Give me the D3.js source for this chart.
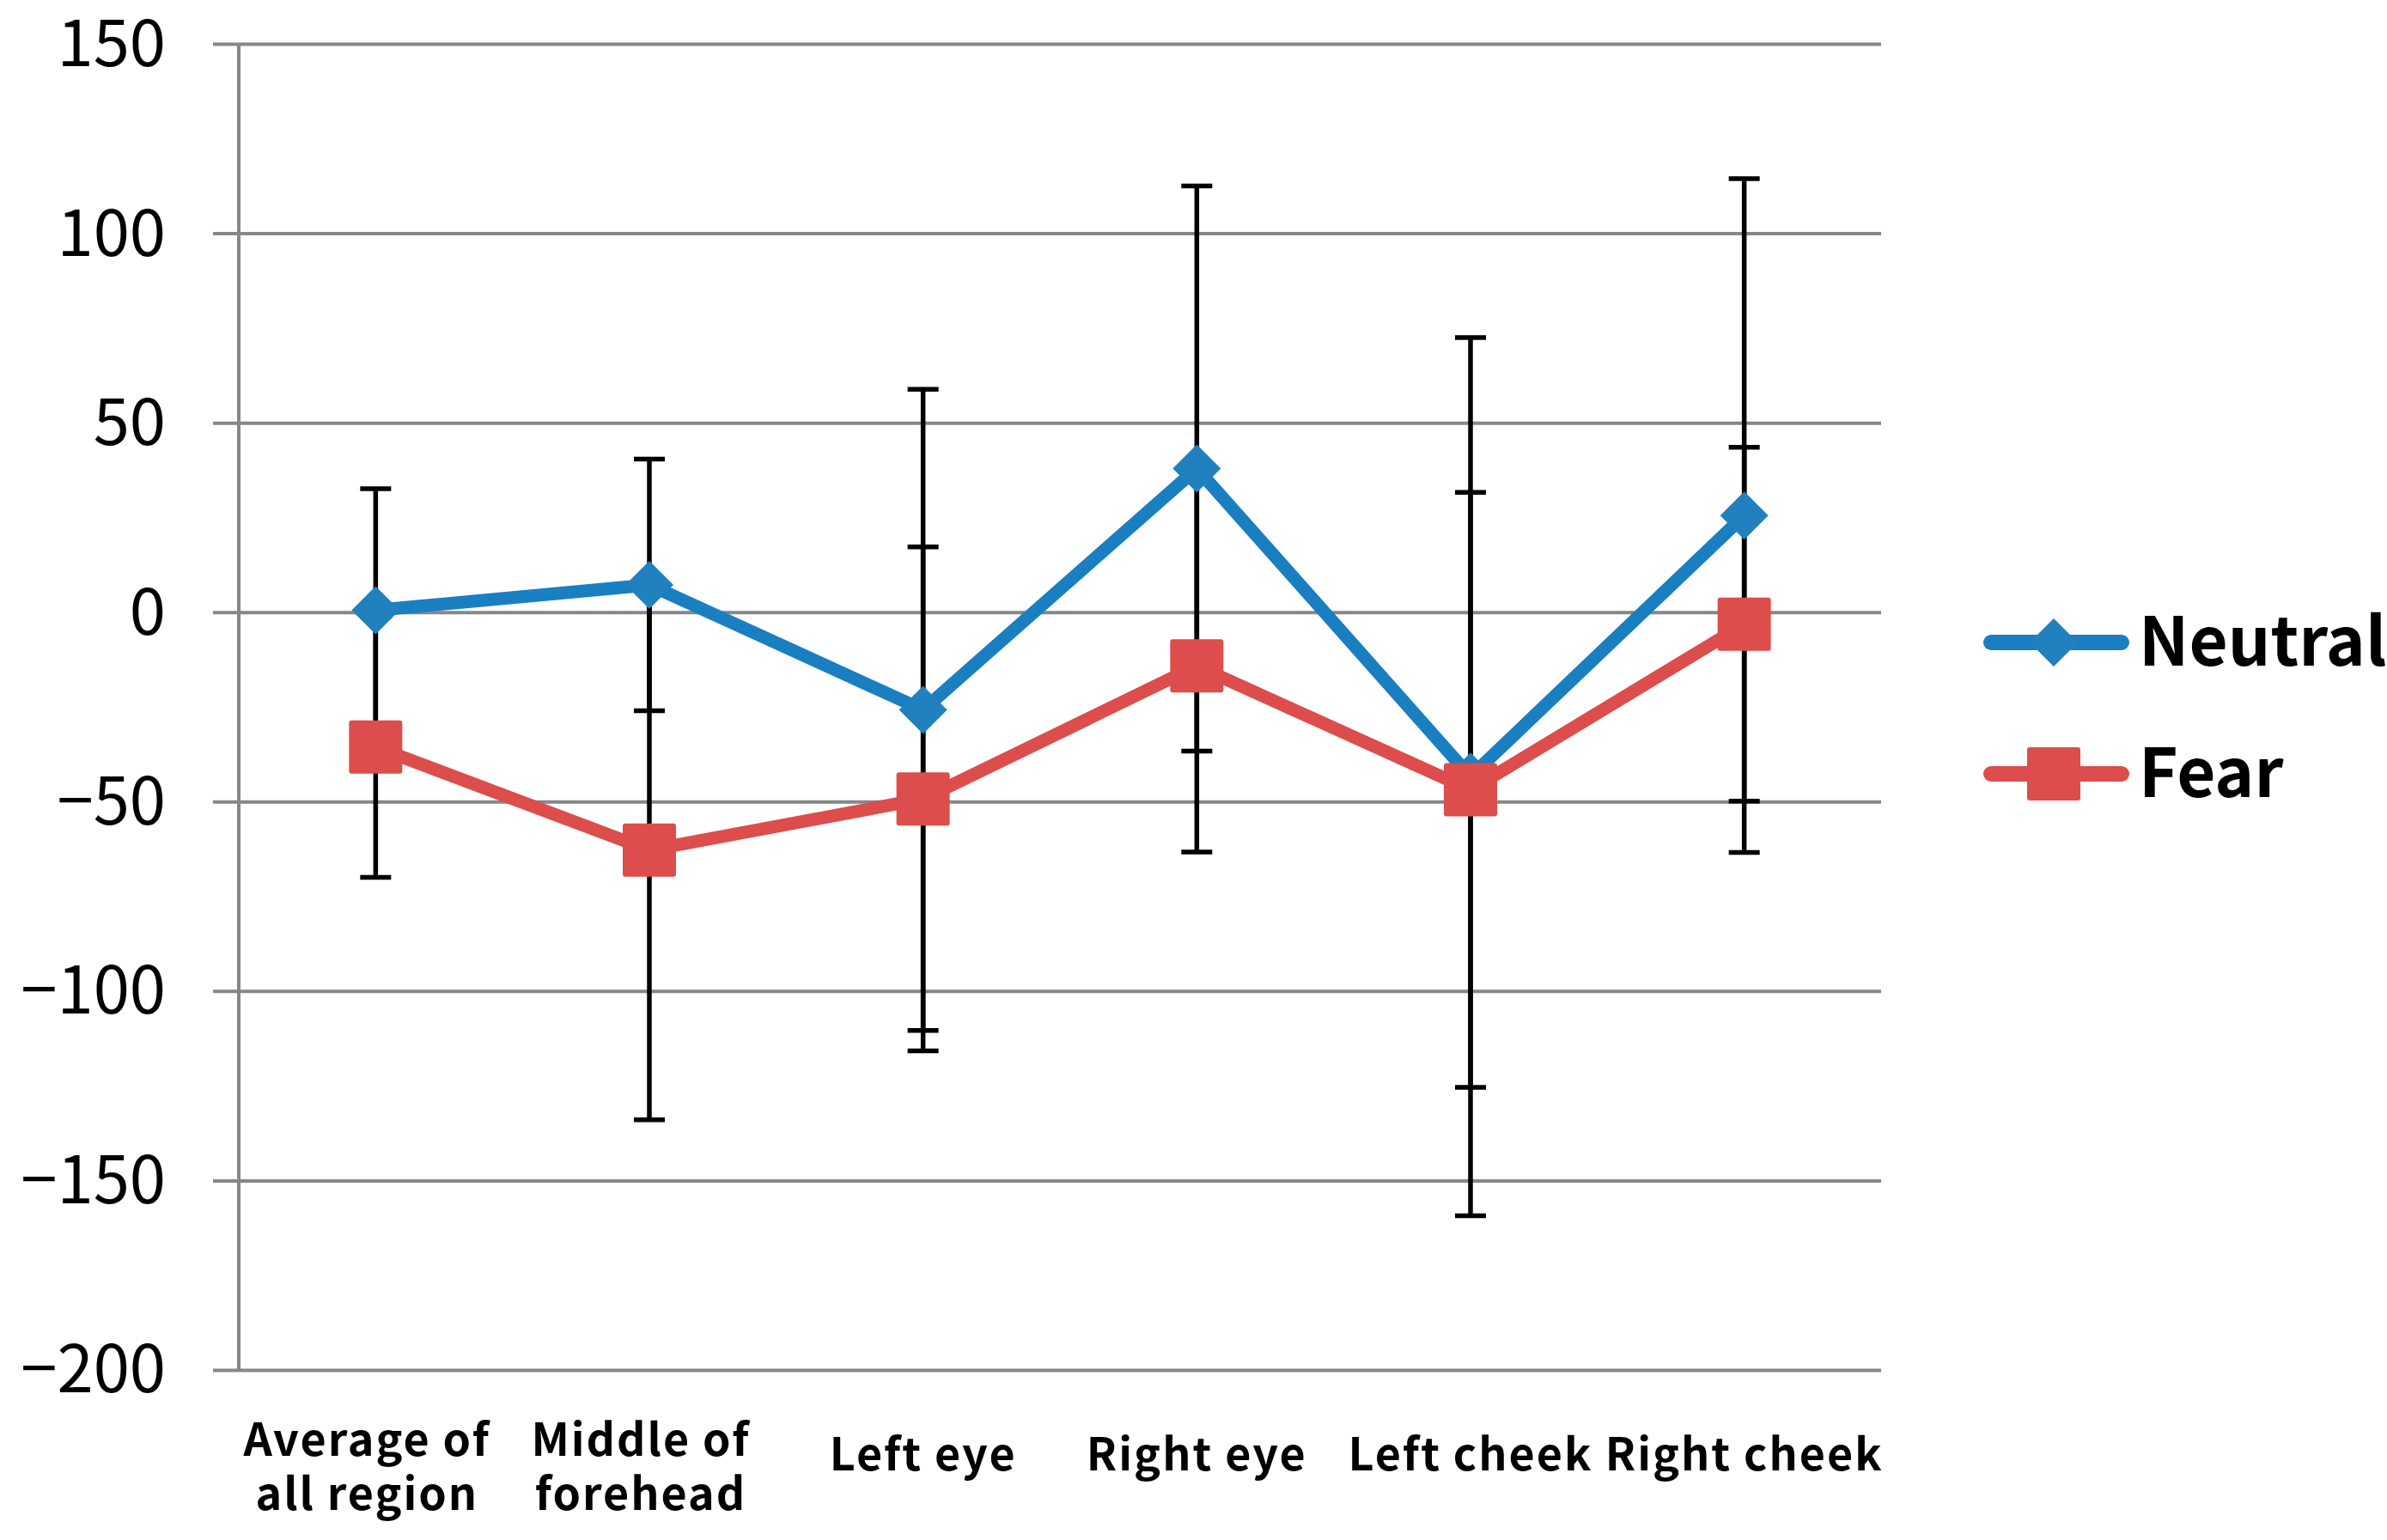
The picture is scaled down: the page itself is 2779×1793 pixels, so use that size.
<!DOCTYPE html>
<html>
<head>
<meta charset="utf-8">
<script src="https://cdn.jsdelivr.net/npm/d3@7"></script>
<style>
  body { margin: 0; background: #fff; }
  svg { display: block; }
</style>
</head>
<body>
<div id="chart"></div>
<script>
// Chart data
var categories = ["Average of all region", "Middle of forehead", "Left eye", "Right eye", "Left cheek", "Right cheek"];
var xLabelLines = [["Average of", "all region"], ["Middle of", "forehead"], ["Left eye"], ["Right eye"], ["Left cheek"], ["Right cheek"]];
var seriesNames = ["Neutral", "Fear"];
var neutralValues = [0.5, 7.2, -25.8, 37.9, -43.4, 25.5];
var neutralErrors = [32.1, 33.2, 84.6, 74.6, 115.9, 88.9];
var fearValues = [-35.6, -62.8, -49.3, -14.2, -46.9, -3.2];
var fearErrors = [34.4, 71.2, 66.5, 49.1, 78.5, 46.7];
var yTicks = [-200, -150, -100, -50, 0, 50, 100, 150];

// SVG area
var svgWidth = 2779;
var svgHeight = 1793;

var plot = { left: 278, right: 2190, top: 51, bottom: 1595, gridStart: 248 };

var svg = d3.select("#chart")
  .append("svg")
  .attr("width", svgWidth)
  .attr("height", svgHeight);

// Scales
var xScale = d3.scaleBand()
  .domain(categories)
  .range([plot.left, plot.right]);

var yScale = d3.scaleLinear()
  .domain([-200, 150])
  .range([plot.bottom, plot.top]);

var cx = function(i) { return xScale(categories[i]) + xScale.bandwidth() / 2; };

// Gridlines + y labels
var yAxis = d3.axisLeft(yScale)
  .tickValues(yTicks)
  .tickSize(plot.right - plot.gridStart)
  .tickPadding(55)
  .tickFormat(d3.format(""));

var yAxisGroup = svg.append("g")
  .attr("transform", `translate(${plot.right}, 0)`)
  .call(yAxis);

yAxisGroup.select(".domain").remove();
yAxisGroup.selectAll(".tick line")
  .attr("stroke", "#878787")
  .attr("stroke-width", 4);
yAxisGroup.selectAll(".tick text")
  .attr("fill", "#000")
  .attr("font-family", "'Noto Sans CJK KR', 'Noto Sans', sans-serif")
  .attr("font-size", 76)
  .attr("dy", "0.34em");

// vertical axis line
svg.append("line")
  .attr("x1", plot.left).attr("x2", plot.left)
  .attr("y1", plot.top).attr("y2", plot.bottom)
  .attr("stroke", "#878787")
  .attr("stroke-width", 4);

// X category labels
var xLabels = svg.append("g")
  .attr("font-family", "'Noto Sans CJK KR', 'Noto Sans', sans-serif")
  .attr("font-weight", "bold")
  .attr("font-size", 52)
  .attr("text-anchor", "middle")
  .attr("fill", "#000");

xLabelLines.forEach(function(lines, i) {
  var lx = lines.length > 1 ? cx(i) - 10 : cx(i);
  var t = xLabels.append("text")
    .attr("x", lx)
    .attr("y", lines.length > 1 ? 1695 : 1712)
    .attr("letter-spacing", 2);
  lines.forEach(function(line, j) {
    t.append("tspan")
      .attr("x", lx)
      .attr("dy", j === 0 ? 0 : 63)
      .text(line);
  });
});

var series = [
  { name: seriesNames[0], values: neutralValues, errors: neutralErrors, color: "#1a7fc1", marker: "diamond" },
  { name: seriesNames[1], values: fearValues, errors: fearErrors, color: "#dc4d4c", marker: "square" }
];

// Error bars
var errGroup = svg.append("g")
  .attr("stroke", "#000")
  .attr("stroke-width", 5.5);

series.forEach(function(s) {
  s.values.forEach(function(v, i) {
    var x = cx(i);
    var hi = yScale(v + s.errors[i]);
    var lo = yScale(v - s.errors[i]);
    errGroup.append("line").attr("x1", x).attr("x2", x).attr("y1", hi).attr("y2", lo);
    errGroup.append("line").attr("x1", x - 18).attr("x2", x + 18).attr("y1", hi).attr("y2", hi);
    errGroup.append("line").attr("x1", x - 18).attr("x2", x + 18).attr("y1", lo).attr("y2", lo);
  });
});

// Lines
var line = d3.line()
  .x(function(d, i) { return cx(i); })
  .y(function(d) { return yScale(d); });

series.forEach(function(s) {
  svg.append("path")
    .datum(s.values)
    .attr("d", line)
    .attr("fill", "none")
    .attr("stroke", s.color)
    .attr("stroke-width", 15)
    .attr("stroke-linejoin", "round");
});

// Markers
function drawMarker(g, type, x, y, color) {
  if (type === "diamond") {
    g.append("path")
      .attr("d", `M${x},${y - 28}L${x + 28},${y}L${x},${y + 28}L${x - 28},${y}Z`)
      .attr("fill", "#2180be");
  } else {
    g.append("rect")
      .attr("x", x - 31).attr("y", y - 31)
      .attr("width", 62).attr("height", 62)
      .attr("rx", 3)
      .attr("fill", color);
  }
}

series.forEach(function(s) {
  var g = svg.append("g");
  s.values.forEach(function(v, i) {
    drawMarker(g, s.marker, cx(i), yScale(v), s.color);
  });
});

// Legend
var legend = svg.append("g");
series.forEach(function(s, i) {
  var ly = 748 + i * 153;
  legend.append("line")
    .attr("x1", 2318).attr("x2", 2470)
    .attr("y1", ly).attr("y2", ly)
    .attr("stroke", s.color)
    .attr("stroke-width", 18)
    .attr("stroke-linecap", "round");
  drawMarker(legend, s.marker, 2391, ly, s.color);
  legend.append("text")
    .attr("x", 2490)
    .attr("y", ly + 27)
    .attr("font-family", "'Noto Sans CJK KR', 'Noto Sans', sans-serif")
    .attr("font-weight", "bold")
    .attr("font-size", 78)
    .attr("fill", "#000")
    .text(s.name);
});
</script>
</body>
</html>
